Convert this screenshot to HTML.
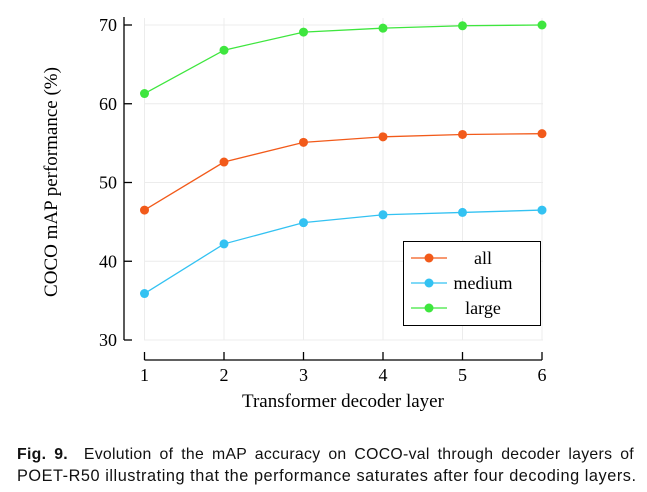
<!DOCTYPE html>
<html><head><meta charset="utf-8"><style>
body{margin:0;background:#fff;width:647px;height:492px;overflow:hidden}
svg text{font-family:"Liberation Serif",serif}
.cap{position:absolute;left:17px;width:617px;font-family:"Liberation Sans",sans-serif;font-size:15.8px;line-height:20px;color:#111;text-align:justify;text-align-last:justify;white-space:nowrap}
</style></head><body>
<svg width="647" height="440" style="position:absolute;left:0;top:0">
<g id="grid"></g><g id="axes"></g><g id="series"></g><g id="legend"></g>
<text x="343" y="407" text-anchor="middle" font-size="19">Transformer decoder layer</text>
<text transform="translate(57,182) rotate(-90)" text-anchor="middle" font-size="19">COCO mAP performance (%)</text>
</svg>
<div class="cap" style="top:445px;letter-spacing:0.3px"><b>Fig. 9.</b>&nbsp; Evolution of the mAP accuracy on COCO-val through decoder layers of</div>
<div class="cap" style="top:466px;width:620px;text-align:left;text-align-last:left;font-size:16.3px;letter-spacing:0.55px">POET-R50 illustrating that the performance saturates after four decoding layers.</div>
<script>
const layers=[1,2,3,4,5,6];
const yTicks=[30,40,50,60,70];
const seriesNames=["all","medium","large"];
const allVals=[46.5,52.6,55.1,55.8,56.1,56.2];
const mediumVals=[35.9,42.2,44.9,45.9,46.2,46.5];
const largeVals=[61.3,66.8,69.1,69.6,69.9,70.0];
const colors=["#f25a1a","#33c2f2","#3ee63e"];
const NS="http://www.w3.org/2000/svg";
const X=v=>144.5+(v-1)*79.5;
const Y=v=>340-(v-30)*7.875;
function mk(t,a,p){const e=document.createElementNS(NS,t);for(const k in a)e.setAttribute(k,a[k]);document.getElementById(p).appendChild(e);return e;}
layers.forEach(v=>{const l=mk('line',{x1:X(v),x2:X(v),y1:18,y2:340,stroke:'#ececec','stroke-width':1},'grid');

const t=mk('line',{x1:X(v),x2:X(v),y1:352,y2:360,stroke:'#000','stroke-width':1.3},'axes');

const tx=mk('text',{x:X(v),y:381,'text-anchor':'middle','font-size':18},'axes');tx.textContent=v;
});
yTicks.forEach(v=>{const l=mk('line',{x1:144,x2:543,y1:Y(v),y2:Y(v),stroke:'#ececec','stroke-width':1},'grid');

const t=mk('line',{x1:124,x2:132,y1:Y(v),y2:Y(v),stroke:'#000','stroke-width':1.3},'axes');

const tx=mk('text',{x:117,y:Y(v)+6,'text-anchor':'end','font-size':18},'axes');tx.textContent=v;
});
const ya=mk('line',{x1:124,x2:124,y1:Y(30),y2:Y(70)-8,stroke:'#000','stroke-width':1.3},'axes');

const xa=mk('line',{x1:X(1),x2:X(6),y1:360,y2:360,stroke:'#000','stroke-width':1.3},'axes');

[allVals,mediumVals,largeVals].forEach((vals,i)=>{
const pl=mk('polyline',{points:vals.map((v,j)=>X(layers[j])+','+Y(v)).join(' '),fill:'none',stroke:colors[i],'stroke-width':1.3},'series');

vals.forEach((v,j)=>{const c=mk('circle',{cx:X(layers[j]),cy:Y(v),r:4.5,fill:colors[i]},'series');
});});
const box=mk('rect',{x:403.5,y:241.5,width:137,height:84,fill:'#fff',stroke:'#000','stroke-width':1},'legend');

seriesNames.forEach((n,i)=>{const y=258+i*25;
const l=mk('line',{x1:411,x2:447,y1:y,y2:y,stroke:colors[i],'stroke-width':1.3},'legend');

const c=mk('circle',{cx:429,cy:y,r:4.5,fill:colors[i]},'legend');

const t=mk('text',{x:483,y:y+6,'text-anchor':'middle','font-size':18},'legend');t.textContent=n;
});
</script>
</body></html>
